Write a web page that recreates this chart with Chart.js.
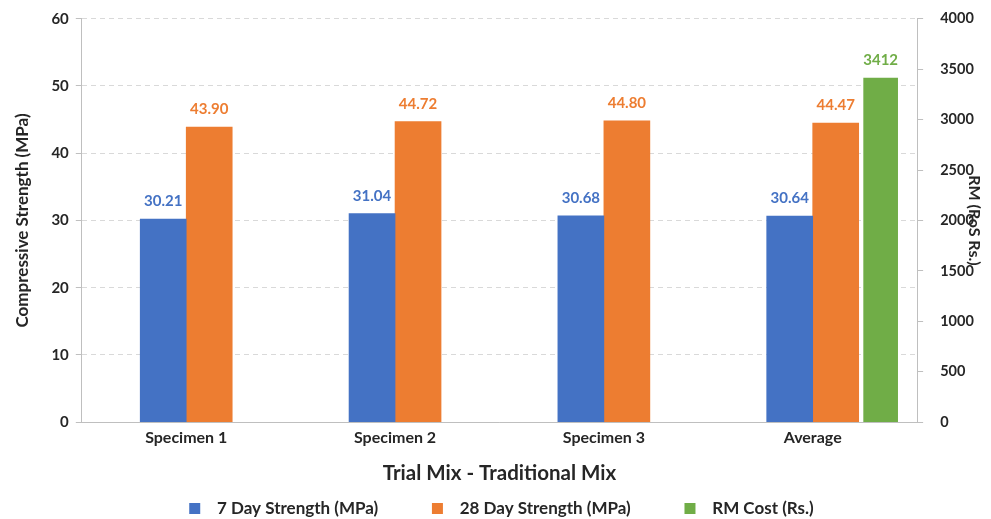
<!DOCTYPE html>
<html>
<head>
<meta charset="utf-8">
<script src="https://cdn.jsdelivr.net/npm/chart.js@4.4.0/dist/chart.umd.min.js"></script>
<style>
html,body{margin:0;padding:0;background:#fff;}
#wrap{width:991px;height:519px;position:relative;}
</style>
</head>
<body>
<div id="wrap"><canvas id="c" width="991" height="519"></canvas></div>
<script>
const categories = ['Specimen 1', 'Specimen 2', 'Specimen 3', 'Average'];
const strength7 = [30.21, 31.04, 30.68, 30.64];
const strength28 = [43.90, 44.72, 44.80, 44.47];
const rmCost = [null, null, null, 3412];
const emptySlot = [null, null, null, null];
const leftTicks = [0, 10, 20, 30, 40, 50, 60];
const rightTicks = [0, 500, 1000, 1500, 2000, 2500, 3000, 3500, 4000];

const BLUE = '#4472C4', ORANGE = '#ED7D31', GREEN = '#70AD47';
const FONT = 'Lato, "Open Sans", sans-serif';
const TXT = '#262626';

const labelPlugin = {
  id: 'valueLabels',
  afterDatasetsDraw(chart) {
    const ctx = chart.ctx;
    ctx.save();
    ctx.font = 'bold 15px ' + FONT;
    ctx.textAlign = 'center';
    ctx.textBaseline = 'bottom';
    chart.data.datasets.forEach((ds, di) => {
      if (!ds.showValues) return;
      const meta = chart.getDatasetMeta(di);
      meta.data.forEach((el, i) => {
        const v = ds.data[i];
        if (v === null || v === undefined) return;
        ctx.fillStyle = ds.backgroundColor;
        ctx.fillText(ds.decimals ? v.toFixed(ds.decimals) : String(v), el.x, el.y - 10);
      });
    });
    ctx.restore();
  }
};

new Chart(document.getElementById('c'), {
  type: 'bar',
  data: {
    labels: categories,
    datasets: [
      // empty first slot so the strength pair sits centred on each category
      { label: '', data: emptySlot, backgroundColor: 'rgba(0,0,0,0)', yAxisID: 'y',
        barThickness: 46, hiddenLegend: true },
      { label: '7 Day Strength (MPa)', data: strength7, backgroundColor: BLUE, yAxisID: 'y',
        barThickness: 46, showValues: true, decimals: 2 },
      { label: '28 Day Strength (MPa)', data: strength28, backgroundColor: ORANGE, yAxisID: 'y',
        barThickness: 46, showValues: true, decimals: 2 },
      { label: 'RM Cost (Rs.)', data: rmCost, backgroundColor: GREEN, yAxisID: 'y2',
        barThickness: 45.3, maxBarThickness: 34, showValues: true, decimals: 0 }
    ]
  },
  options: {
    responsive: false,
    animation: false,
    layout: { padding: { top: 9, left: 12, right: 0, bottom: 0 } },
    plugins: {
      tooltip: { enabled: false },
      legend: {
        position: 'bottom',
        maxHeight: 19,
        labels: {
          boxWidth: 11, boxHeight: 11, padding: 0,
          color: TXT,
          font: { family: FONT, size: 17, weight: 'bold' },
          generateLabels: (chart) => {
            const items = Chart.defaults.plugins.legend.labels.generateLabels(chart)
              .filter(it => !chart.data.datasets[it.datasetIndex].hiddenLegend);
            items.forEach((it, k) => {
              it.lineWidth = 0;
              it.text = '\u00A0\u00A0' + it.text + (k < items.length - 1 ? '\u00A0'.repeat(13) : '');
            });
            return items;
          }
        }
      }
    },
    scales: {
      x: {
        type: 'category',
        offset: true,
        grid: { display: false },
        border: { display: true, color: '#BFBFBF', width: 1 },
        ticks: { color: TXT, font: { family: FONT, size: 16, weight: 'bold' }, padding: -2 },
        title: { display: true, text: 'Trial Mix - Traditional Mix', color: TXT,
          font: { family: FONT, size: 20.5, weight: 'bold' }, padding: { top: 16, bottom: 14 } }
      },
      y: {
        position: 'left',
        min: 0, max: 60,
        afterBuildTicks: (s) => { s.ticks = leftTicks.map(v => ({ value: v })); },
        grid: { color: '#D9D9D9', lineWidth: 1, drawTicks: true, tickLength: 6, tickColor: '#BFBFBF', tickBorderDash: [] },
        border: { display: true, color: '#BFBFBF', width: 1, dash: [5, 4] },
        ticks: { color: TXT, font: { family: FONT, size: 15, weight: 'bold' }, padding: 7 },
        title: { display: true, text: 'Compressive Strength (MPa)', color: TXT,
          font: { family: FONT, size: 17, weight: 'bold' }, padding: { top: 0, bottom: 12 } }
      },
      y2: {
        position: 'right',
        min: 0, max: 4000,
        afterBuildTicks: (s) => { s.ticks = rightTicks.map(v => ({ value: v })); },
        grid: { drawOnChartArea: false, drawTicks: true, tickLength: 6, tickColor: '#BFBFBF' },
        border: { display: true, color: '#BFBFBF', width: 1 },
        ticks: { color: TXT, font: { family: FONT, size: 14.5, weight: 'bold' }, padding: 10,
          callback: (v) => '\u00A0\u00A0' + String(v) },
        title: { display: true, text: 'RM (RoS Rs.)', color: TXT,
          font: { family: FONT, size: 16, weight: 'bold' }, padding: { top: 7, bottom: -19 } }
      }
    }
  },
  plugins: [labelPlugin]
});
</script>
</body>
</html>
